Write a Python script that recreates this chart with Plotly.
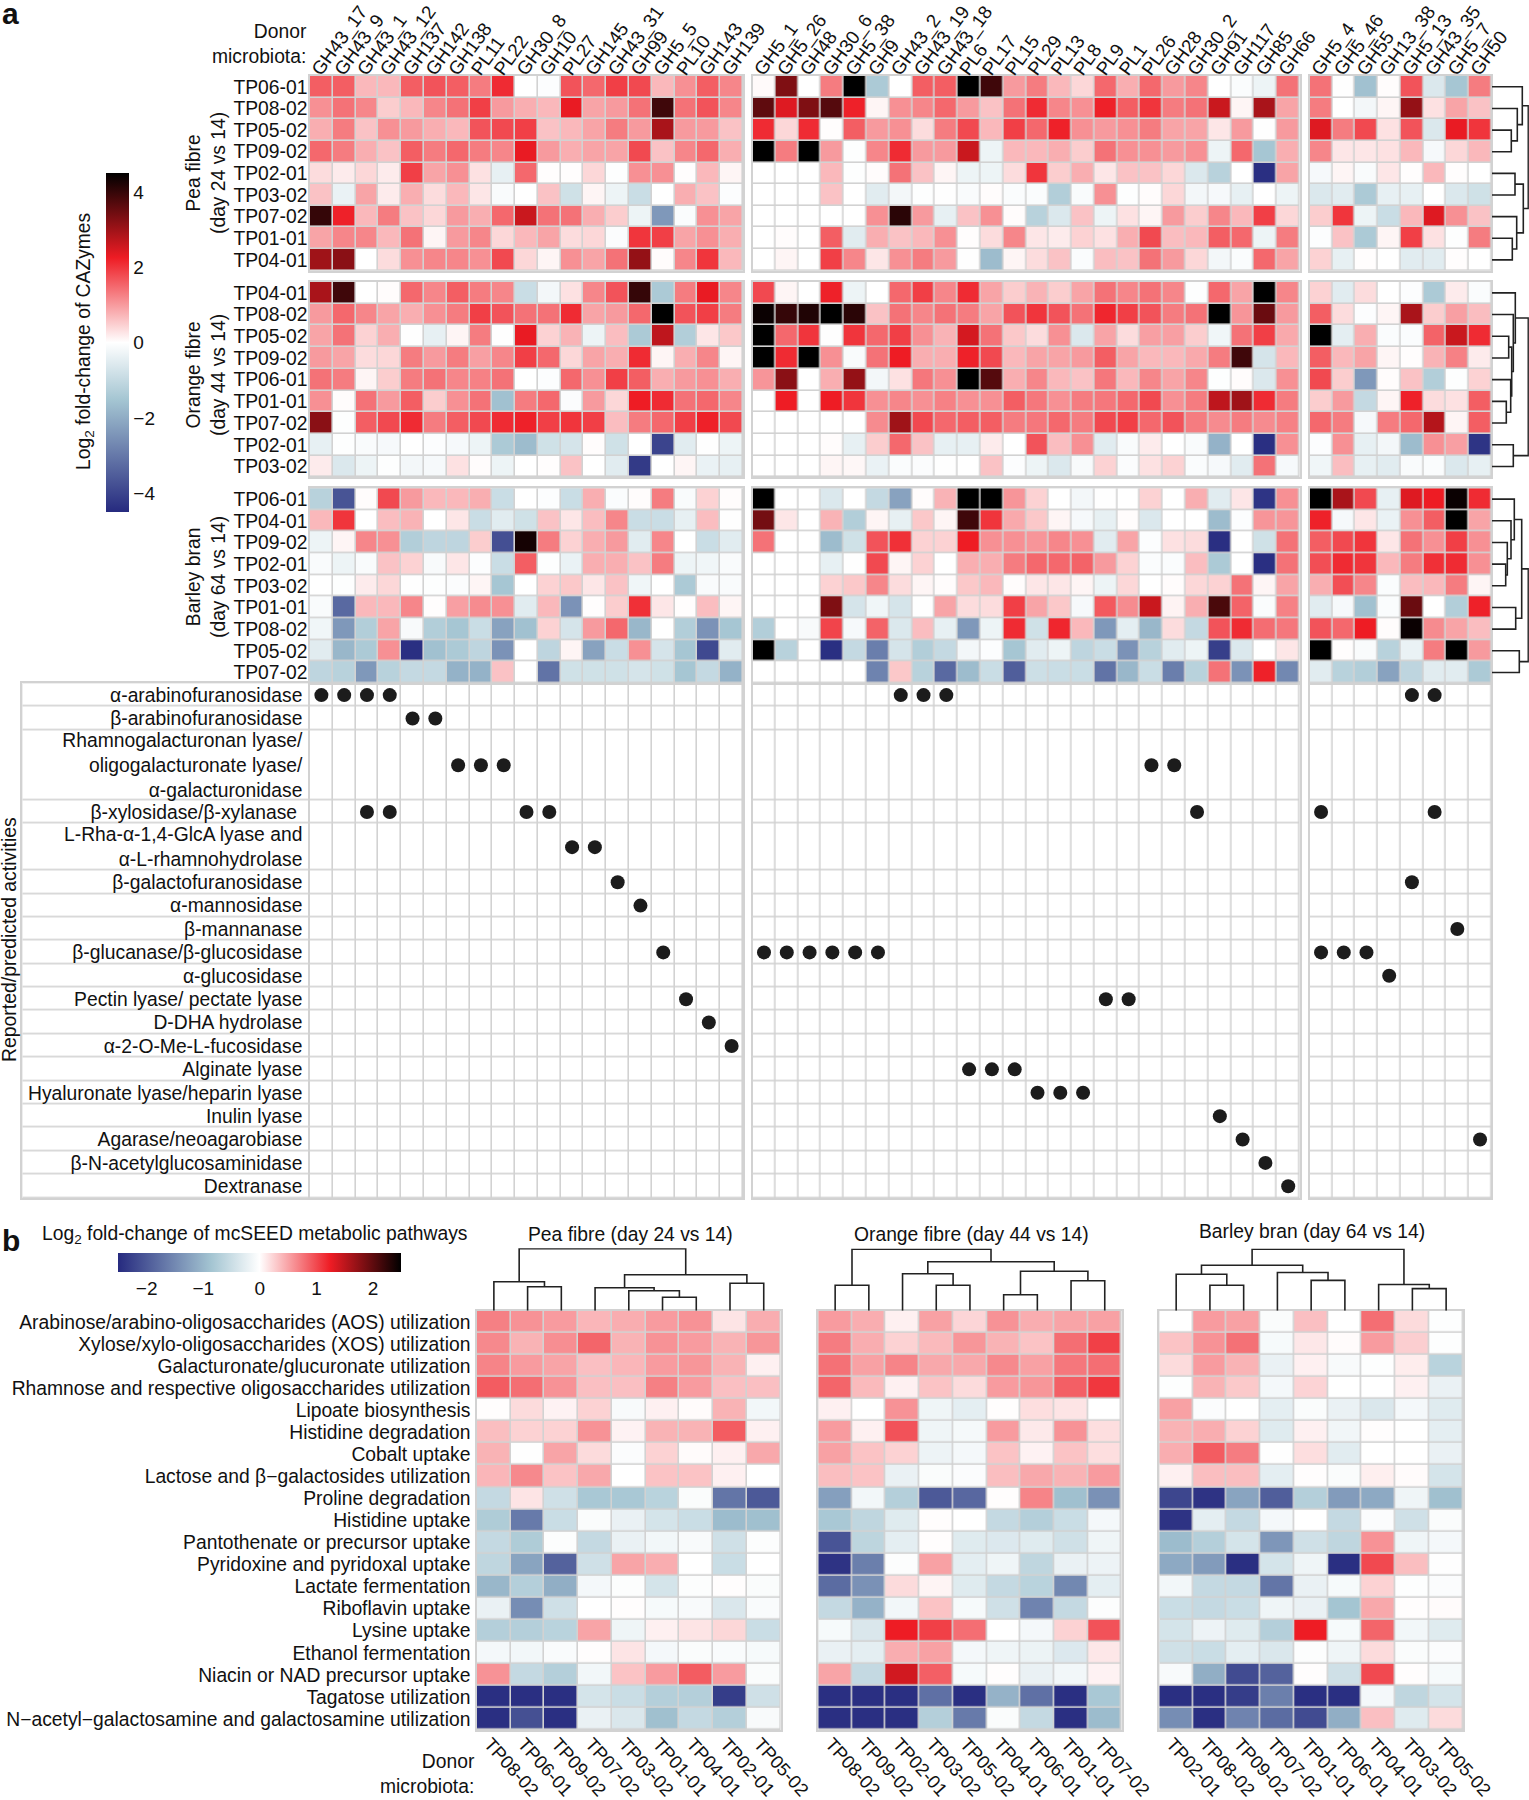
import plotly.graph_objects as go

W, H = 1529, 1800
FONT = "Liberation Sans"
GRID = "#d2d2d2"

COLS_A = ["GH43_17", "GH43_9", "GH43_1", "GH43_12", "GH137", "GH142", "GH138", "PL11", "PL22", "GH30_8",
          "GH10", "PL27", "GH145", "GH43_31", "GH99", "GH5_5", "PL10", "GH143", "GH139"]
COLS_B = ["GH5_1", "GH5_26", "GH48", "GH30_6", "GH5_38", "GH9", "GH43_2", "GH43_19", "GH43_18", "PL6", "PL17",
          "PL15", "PL29", "PL13", "PL8", "PL9", "PL1", "PL26", "GH28", "GH30_2", "GH91", "GH117", "GH85", "GH66"]
COLS_C = ["GH5_4", "GH5_46", "GH55", "GH13_38", "GH5_13", "GH43_35", "GH5_7", "GH50"]

ROWS_PEA = ["TP06-01", "TP08-02", "TP05-02", "TP09-02", "TP02-01", "TP03-02", "TP07-02", "TP01-01", "TP04-01"]
ROWS_ORANGE = ["TP04-01", "TP08-02", "TP05-02", "TP09-02", "TP06-01", "TP01-01", "TP07-02", "TP02-01", "TP03-02"]
ROWS_BARLEY = ["TP06-01", "TP04-01", "TP09-02", "TP02-01", "TP03-02", "TP01-01", "TP08-02", "TP05-02", "TP07-02"]

PEA_A = [
    [1.6, 1.6, 0.7, 0.7, 1.6, 1.7, 1.6, 1.3, 2.1, 0, -0.05, 1.7, 1.5, 1.9, 1.8, 0.7, 1.1, 1.6, 1.2],
    [1.1, 1.4, 1.2, 0.5, 0.7, 1.2, 1.4, 1.9, 1.0, 0.8, 0.7, 2.3, 0.9, 1.0, 1.4, 3.9, 1.4, 1.7, 1.2],
    [0.8, 1.3, 0.6, 1.1, 1.0, 0.8, 0.7, 1.7, 1.8, 1.9, 0.6, 0.7, 0.9, 1.3, 1.0, 2.9, 1.0, 1.0, 0.6],
    [1.5, 1.3, 0.8, 0.6, 1.6, 1.3, 1.5, 1.3, 1.2, 2.3, 1.0, 0.8, 0.9, 0.9, 1.8, 0.6, 1.2, 1.5, 0.8],
    [0.35, 0.2, 0.4, 0.2, 1.9, 0.9, 1.1, 0.3, -0.4, 1.5, 0.02, 0.02, 0.4, -0.03, 1.1, 1.1, 0.02, 0.7, 0.1],
    [0.6, -0.35, 0.9, 0.2, 0.8, 0.35, 0.7, 0.25, -0.1, 0, 0.6, -0.8, 0.1, -0.3, -0.9, 0, 0.8, 0.6, -0.05],
    [4.0, 2.2, 0.7, 1.3, 0.6, 0.4, 1.0, 0.8, 1.5, 2.6, 1.4, 1.4, 0.8, 0.5, -0.3, -2.4, -0.08, 1.1, 0.9],
    [0.9, 1.2, 1.2, 0.7, 1.4, 0.1, 1.0, 1.2, 0.4, 0.7, 0.9, 0.35, 0.4, -0.07, 2.0, 1.9, 0.9, 1.1, 0.8],
    [3.0, 3.2, 0, 0.35, 1.1, 1.2, 1.2, 1.1, 1.8, 0.4, 0.1, 1.1, 0.9, 1.4, 3.1, 0.03, 1.2, 2.0, 0.7],
]
PEA_B = [
    [0.05, 3.3, 0, 1.3, 4.5, -1.4, 0, 1.6, 1.6, 4.5, 3.9, 1.0, 1.3, 0.7, 0.4, 1.5, 0.8, 1.5, 1.0, 1.2, 0, -0.08, -0.3, 1.4],
    [3.6, 2.4, 3.3, 3.7, 2.2, 0.1, 1.1, 1.2, 1.5, 1.0, 0.6, 1.4, 2.1, 1.2, 1.1, 2.2, 1.6, 2.0, 1.3, 1.4, 2.6, 0.1, 2.9, 0.9],
    [2.1, 0.4, 2.1, 0.02, 1.6, 1.0, 1.1, 0.35, 1.3, 1.8, 0.7, 1.9, 1.5, 2.2, 1.1, 1.0, 1.1, 1.3, 0.9, 0.9, 0.25, 1.0, -0.02, 1.0],
    [4.5, 1.3, 4.5, 1.0, -0.03, 1.2, 2.1, 1.0, 1.0, 2.6, -0.3, 0.7, 0.7, 0.8, 0.5, 1.4, 1.1, 1.1, 1.0, 1.1, -0.3, 1.5, -1.5, 0.8],
    [0, 0, 0, 0.7, -0.03, 0.03, 1.4, 0.6, 0.1, -0.3, -0.3, 0.35, 2.0, 0.5, 0.8, 0.25, 0.6, 0.6, 0.4, -0.6, -1.2, 0, -4.4, 0.9],
    [0, 0, 0, 0.6, 0, -0.5, -0.2, -0.03, -0.02, -0.1, 0.03, -0.08, -0.08, -1.3, -0.1, 1.1, -0.03, 0.03, 0.4, -0.2, -0.15, -0.4, 0, -0.3],
    [0, 0, 0, 0, 0, 1.1, 4.1, 1.0, -0.4, 0.6, 1.1, 0.03, -1.2, -0.6, 0.6, -0.3, 0.3, 0.1, 1.0, 0.5, 1.2, 0.7, 1.9, 0.4],
    [0, 0.03, 0, 1.6, -0.5, 0.8, 0.6, 0.7, 1.1, 0.02, 0.35, 1.2, 0.25, 0.2, 0.45, 0.3, 0.8, 1.8, 0.65, 0.7, 1.6, 1.5, -0.3, 1.3],
    [0, 0.1, 0, 1.9, 1.2, 0.25, 1.1, 1.3, 1.0, -0.02, -1.7, 0.1, 0.35, 0.6, -0.08, 0.65, 0.6, 1.4, 1.0, 0.4, -0.2, -0.08, 1.5, 0.9],
]
PEA_C = [
    [1.4, -0.02, -1.6, 0.03, 1.7, -0.6, -1.5, 1.3],
    [1.3, 0, -0.2, 0.1, 3.1, 0.3, 0.9, 0.6],
    [2.4, 1.3, 1.8, 0.3, 1.7, -0.6, 2.3, 2.0],
    [1.2, 0.25, 0.25, 0.3, 0.7, -0.15, 0.4, 0.7],
    [-0.15, 0.1, -0.1, 0.25, 0.02, 0.7, 0.02, 0],
    [-0.6, -0.5, -1.4, -0.4, -0.4, 0, -0.6, -0.8],
    [0.5, 2.0, -0.3, -0.9, 0.7, 2.4, 1.1, 0.6],
    [-0.05, 0.6, -1.4, 0.1, 1.9, 0.3, -0.03, 1.3],
    [0.45, -0.4, 0.02, 0, -0.5, -0.5, 0.02, 0],
]
ORANGE_A = [
    [2.9, 3.9, 0, 0.03, 1.5, 1.2, 1.6, 1.3, 1.2, -0.9, -0.2, 0.3, 1.2, 1.7, 4.0, -1.4, 1.3, 2.3, 1.2],
    [1.0, 1.5, 1.2, 0.9, 0.8, 1.1, 1.3, 1.9, 1.7, 1.4, 1.4, 2.1, 0.9, 1.0, 1.5, 4.5, 1.7, 1.9, 1.3],
    [0.9, 1.4, 0.45, 0.8, -0.02, -0.4, 0.1, 1.3, -0.02, 2.3, 0.45, 0.75, -0.3, 0.65, -1.4, 2.7, -1.3, 0.25, 0.55],
    [1.0, 0.9, 0.35, 0.4, 1.3, 1.0, 1.3, 0.95, 1.2, 1.9, 1.5, 0.4, 0.9, 0.8, 2.1, 0.1, 0.8, 1.2, 0.1],
    [1.4, 1.3, 0.1, 0.5, 1.3, 1.4, 1.2, 1.25, 1.4, 0, -0.05, 1.5, 1.1, 1.9, 1.6, 0.8, 1.0, 1.1, 0.8],
    [1.1, 0.03, 1.4, 1.0, 1.6, 0.5, 1.1, 1.4, -1.6, 1.3, 1.5, -0.07, 1.0, 0.4, 2.25, 2.1, 1.4, 1.5, 1.2],
    [3.2, -0.03, 1.6, 1.8, 2.1, 1.3, 1.6, 1.8, 2.1, 2.2, 1.9, 2.0, 1.9, 0.65, 1.3, 1.5, 1.9, 2.2, 1.8],
    [-0.4, -0.03, -0.1, -0.15, 0, -0.05, -0.15, -0.3, -1.4, -1.7, -0.8, -0.7, 0.03, -0.8, 0, -4.0, -0.5, -0.02, -0.3],
    [0.2, -0.6, -0.3, -0.03, -0.2, -0.15, 0.3, 0.03, -0.3, 0, 0.02, 0.6, 0, -0.5, -4.2, 0, 0.1, -0.35, -0.4],
]
ORANGE_B = [
    [1.8, 0.1, 0, 2.2, -0.3, 0, 1.5, 1.9, 1.2, 2.1, 0.9, 0.5, 0.75, 0.5, 0.9, 1.4, 1.2, 1.4, 1.2, -0.03, 1.5, 0.9, 4.5, 1.2],
    [4.4, 4.0, 4.2, 4.5, 4.1, 0.6, 1.4, 1.2, 1.4, 1.3, 0.9, 1.7, 2.0, 1.7, 1.4, 2.15, 1.9, 1.7, 1.3, 1.4, 4.5, 1.05, 3.5, 1.0],
    [4.5, 1.5, 2.0, -0.02, 2.0, 1.5, 1.9, 1.1, 0.75, 2.5, 1.4, 0.55, 0.35, 1.1, -0.6, 0.9, 0.35, 0.95, 0.95, 0.5, -0.25, 1.4, 1.9, 0.85],
    [4.5, 2.1, 4.5, 1.1, -0.1, 1.4, 2.25, 0.8, 0.8, 2.2, 1.8, 0.7, 0.9, 0.9, 1.0, 1.6, 0.9, 0.7, 0.7, 0.85, 1.3, 3.9, -0.7, 0.7],
    [1.05, 3.2, 0, 0.8, 3.1, -0.2, 0.3, 1.35, 1.1, 4.5, 3.7, 0.8, 1.2, 0.7, 0.6, 1.35, 0.7, 1.2, 0.9, 1.2, -0.03, 0.03, -0.6, 1.1],
    [0, 2.25, 0, 2.25, 2.0, 1.1, 1.2, 1.1, 1.25, 1.1, 1.1, 1.6, 1.35, 1.1, 1.3, 1.35, 1.5, 1.8, 1.1, 1.3, 2.7, 3.0, 2.1, 1.3],
    [0, 0, 0, 0, 0, 1.15, 3.0, 1.8, 1.5, 1.6, 1.6, 1.3, 1.35, 1.5, 1.3, 1.8, 1.9, 1.5, 1.7, 1.3, 1.15, 1.3, 1.15, 1.25],
    [0, 0, 0, 0.03, -0.4, 0.5, 1.5, 0.6, -0.4, -0.4, 0.2, 0, 1.7, 0.65, 1.1, -0.5, -0.1, 0.2, 0, -0.1, -1.9, 0, -4.4, 1.1],
    [0, 0, 0, 0.1, 0.08, -0.35, -0.08, -0.07, -0.02, 0, 0.6, -0.05, -0.3, -0.6, -0.12, 0.45, -0.07, 0.3, 0.45, -0.08, -0.15, -0.5, 1.4, -0.15],
]
ORANGE_C = [
    [0.45, -0.5, 0.35, 0, -0.05, -1.4, 0.2, -0.08],
    [1.6, 0.35, -0.05, 0.1, 2.9, 0.5, 0.95, 0.65],
    [4.5, -0.45, 0.8, -0.08, -0.08, 1.55, 2.6, 2.1],
    [1.6, 0.7, 0.9, 0.1, 0.02, 0.75, 1.25, 0.2],
    [1.8, 0.5, -2.4, 0.03, 0.6, -1.3, -0.03, 0.45],
    [0.5, 1.0, -1.0, 0.1, 2.2, 0.35, 0.3, 1.6],
    [1.5, 1.3, -0.15, 1.3, 1.5, 2.8, 0.1, 1.6],
    [-0.05, 1.1, -0.4, -0.2, -1.7, 1.1, 0.95, -4.3],
    [-0.25, 0.65, -0.4, -0.5, -0.1, -0.08, -0.6, -0.4],
]
BARLEY_A = [
    [-1.2, -3.7, 0.03, 1.8, 1.0, 0.7, 0.7, 0.8, -0.9, 0, -0.05, -0.9, 0.8, -0.08, 0.03, 1.3, -0.1, 0.45, 0.03],
    [0.7, 2.0, 0, 0.65, 0.75, 0, 0.25, -0.9, -0.5, -0.8, 0.6, 0.25, 0.65, 1.2, -0.9, -0.9, -0.4, 0.65, -0.02],
    [-0.3, 0.1, 1.2, 1.1, -1.3, -1.1, -1.1, 0.5, -3.8, 4.3, 1.3, 0.45, 0.8, 1.0, -0.5, 1.2, 0, -0.9, -0.5],
    [-0.1, -0.3, -0.1, 0.6, 0.45, -0.12, 0.25, -0.05, -0.9, 1.6, -0.03, -0.35, 0.8, 0.8, 0.6, 1.3, -0.3, -0.25, -0.1],
    [0, -0.03, 0.2, 0.4, -0.02, -0.03, -0.07, 0.1, -1.5, 0, 0.45, 0.55, 0.25, 0.6, -0.25, 0, -1.4, -0.1, -0.1],
    [-0.1, -3.3, 0.7, 0.7, 1.2, 0.02, 0.95, 1.15, 1.1, -0.5, 0.7, -2.5, 0.02, 0.5, 2.05, 0.25, 0.02, 0.65, 0.1],
    [-0.25, -2.4, -1.3, 0.9, -0.12, -1.3, -1.5, -0.9, -2.2, -1.6, 0.45, -0.7, 1.0, 1.5, -1.8, 0, -1.3, -2.5, -1.5],
    [-0.5, -1.8, -1.4, 1.1, -4.4, -1.6, -1.4, -1.1, -2.5, 0, -1.1, 0.1, -2.2, -0.9, 1.1, -0.7, -1.5, -3.9, -0.5],
    [-1.1, -1.2, -2.4, -1.2, -1.0, -1.0, -1.9, -1.9, 0.6, 0, -3.1, -0.8, -0.8, -0.8, -0.7, -0.8, -1.5, -1.0, -1.9],
]
BARLEY_B = [
    [4.5, 0, 0, -0.6, 0, -1.0, -2.2, 0.03, 0.75, 4.5, 4.5, 1.05, 0.45, 0, -0.2, -0.02, 0, 0.45, 0, 0.8, -0.5, 0.25, -4.3, 1.1],
    [3.4, 0.25, 0, 0.75, -1.3, 0.1, -0.4, 0.55, 0.1, 3.9, 2.0, 0.85, 0.55, 0.1, -0.15, -0.4, 0.03, -0.6, 0, 0, -1.7, -0.05, 1.05, 1.05],
    [1.4, 0, 0, -1.7, -0.8, 1.7, 2.05, 0.45, 0.45, 2.25, 1.1, 1.1, 1.05, 1.2, 1.1, -0.5, 0.9, -0.05, 0.3, 0.35, -4.4, 0, -0.8, 1.4],
    [0, 0, 0, -0.4, -0.02, 1.8, 0.1, 0.45, 0, 0.8, 0.8, 1.3, 1.5, 1.5, 1.55, 1.0, 0.45, -0.08, -0.08, 0.65, -1.4, 0, -4.4, 1.4],
    [0, 0, 0, 0.45, 0.55, 1.2, 0.35, 0.1, 0.03, 0.55, 0.7, 0.03, 0.25, 0.25, 0.1, -0.3, 0.4, 0, 0.03, 0.4, 0.45, 1.4, 0.1, 0.9],
    [0, 0, 0, 3.3, -0.7, -0.25, -0.7, -0.02, 0.9, 0.35, 0.35, 1.9, 0.9, 0.55, -0.15, 1.65, 1.15, 2.6, 0.12, 0.8, 3.8, 1.55, -0.08, 1.25],
    [-1.3, 0, -0.12, 1.85, -0.15, 1.55, -0.6, 0.65, -0.4, -2.4, -0.3, 2.1, -0.8, 2.15, 0.7, -2.4, -0.45, -1.8, 0.35, -1.0, 1.7, 2.1, 1.45, 1.35],
    [4.5, -1.2, 0, -4.4, -1.0, -2.9, -0.7, -1.3, -1.0, -0.2, -0.05, -1.5, -0.5, -0.3, -1.1, -0.9, -2.5, -1.2, -0.5, -0.3, -4.1, -0.6, 0, 0.25],
    [0, 0, 0, 0, 0, -2.8, 0.55, -1.2, -3.3, -1.7, -0.9, -3.5, -0.85, -0.9, -0.9, -3.1, -1.8, -0.9, -2.9, -1.2, 1.4, -2.5, 2.2, -2.7],
]
BARLEY_C = [
    [4.5, 2.9, 1.8, -0.4, 2.4, 2.25, 4.4, 2.1],
    [2.2, -0.15, 0.25, -0.35, 1.1, 1.6, 4.5, 0.9],
    [1.6, 1.8, 2.0, 0.25, 1.4, 1.1, 1.9, 1.1],
    [1.75, 2.1, 2.0, 0.7, 1.3, 2.05, 2.1, 1.1],
    [0.8, 1.75, 1.2, -0.08, 0.65, 0.7, 1.3, 0.1],
    [-0.5, -0.15, -1.6, -0.08, 3.5, 0, -1.3, 2.2],
    [1.7, 1.5, 2.25, 0.03, 4.4, 1.15, 0.9, 0.65],
    [4.5, 0.02, -0.1, -1.2, -0.35, 1.3, 4.5, 1.0],
    [-0.5, -1.2, -1.3, -2.2, -1.1, -0.5, -0.5, -1.4],
]

# reported activities: row labels, row span in grid units, and dotted columns per block
ACTIVITIES = ["α-arabinofuranosidase", "β-arabinofuranosidase",
              "Rhamnogalacturonan lyase/<br>oligogalacturonate lyase/<br>α-galacturonidase",
              "β-xylosidase/β-xylanase\u00a0", "L-Rha-α-1,4-GlcA lyase and<br>α-L-rhamnohydrolase",
              "β-galactofuranosidase", "α-mannosidase", "β-mannanase", "β-glucanase/β-glucosidase", "α-glucosidase",
              "Pectin lyase/ pectate lyase", "D-DHA hydrolase", "α-2-O-Me-L-fucosidase", "Alginate lyase",
              "Hyaluronate lyase/heparin lyase", "Inulin lyase", "Agarase/neoagarobiase",
              "β-N-acetylglucosaminidase", "Dextranase"]
ACTIVITY_SPANS = [1, 1, 3, 1, 2, 1, 1, 1, 1, 1, 1, 1, 1, 1, 1, 1, 1, 1, 1]
DOTS_A = [[0, 1, 2, 3], [4, 5], [6, 7, 8], [2, 3, 9, 10], [11, 12], [13], [14], [], [15], [], [16], [17], [18],
          [], [], [], [], [], []]
DOTS_B = [[6, 7, 8], [], [17, 18], [19], [], [], [], [], [0, 1, 2, 3, 4, 5], [], [15, 16], [], [], [9, 10, 11],
          [12, 13, 14], [20], [21], [22], [23]]
DOTS_C = [[4, 5], [], [], [0, 5], [], [4], [], [6], [0, 1, 2], [3], [], [], [], [], [], [], [7], [], []]

# panel b
PATHWAYS = ["Arabinose/arabino-oligosaccharides (AOS) utilization", "Xylose/xylo-oligosaccharides (XOS) utilization",
            "Galacturonate/glucuronate utilization", "Rhamnose and respective oligosaccharides utilization",
            "Lipoate biosynthesis", "Histidine degradation", "Cobalt uptake", "Lactose and β−galactosides utilization",
            "Proline degradation", "Histidine uptake", "Pantothenate or precursor uptake",
            "Pyridoxine and pyridoxal uptake", "Lactate fermentation", "Riboflavin uptake", "Lysine uptake",
            "Ethanol fermentation", "Niacin or NAD precursor uptake", "Tagatose utilization",
            "N−acetyl−galactosamine and galactosamine utilization"]
DONORS_PEA = ["TP08-02", "TP06-01", "TP09-02", "TP07-02", "TP03-02", "TP01-01", "TP04-01", "TP02-01", "TP05-02"]
DONORS_ORANGE = ["TP08-02", "TP09-02", "TP02-01", "TP03-02", "TP05-02", "TP04-01", "TP06-01", "TP01-01", "TP07-02"]
DONORS_BARLEY = ["TP02-01", "TP08-02", "TP09-02", "TP07-02", "TP01-01", "TP06-01", "TP04-01", "TP03-02", "TP05-02"]

PATH_PEA = [
    [0.7, 0.6, 0.55, 0.4, 0.45, 0.55, 0.6, 0.15, 0.45],
    [0.65, 0.42, 0.62, 0.85, 0.42, 0.6, 0.55, 0.42, 0.58],
    [0.68, 0.55, 0.5, 0.35, 0.4, 0.55, 0.58, 0.42, 0.08],
    [0.9, 0.8, 0.6, 0.35, 0.35, 0.7, 0.55, 0.35, 0.35],
    [0.01, 0.2, 0.07, 0.25, -0.07, 0.08, 0.02, 0.42, -0.12],
    [0.36, 0.25, 0.25, 0.6, 0.07, 0.42, 0.42, 0.9, 0.08],
    [0.42, -0.01, 0.5, 0.2, -0.04, 0.25, 0.02, 0.08, 0.48],
    [0.4, 0.65, 0.33, 0.48, 0, 0.33, 0.33, 0.08, 0],
    [-0.55, 0.15, -0.45, -0.8, -0.8, -0.65, -0.05, -1.7, -2.0],
    [-0.75, -1.65, -0.5, -0.05, -0.2, -0.4, -0.5, -0.95, -0.9],
    [-0.55, -0.75, -0.03, -0.55, -0.2, -0.12, -0.07, -0.45, -0.03],
    [-0.6, -1.2, -1.9, -0.45, 0.5, 0.45, 0, -0.5, 0],
    [-1.0, -0.7, -1.1, -0.1, -0.03, -0.4, -0.03, 0.01, -0.05],
    [-0.2, -1.45, -0.45, 0, 0.01, -0.08, -0.07, -0.35, -0.06],
    [-0.7, -0.7, -0.65, 0.5, -0.15, 0.08, 0.15, 0.22, -0.5],
    [-0.1, -0.12, -0.06, 0.01, 0.15, -0.1, -0.05, -0.06, -0.08],
    [0.6, -0.55, -0.7, -0.12, 0.33, 0.55, 0.9, 0.55, -0.05],
    [-2.45, -2.45, -2.45, -0.4, -0.5, -0.7, -0.7, -2.3, -0.45],
    [-2.45, -2.1, -2.45, -0.2, -0.35, -0.9, -0.55, -0.7, -0.07],
]
PATH_ORANGE = [
    [0.55, 0.45, 0.08, 0.52, 0.23, 0.6, 0.45, 0.5, 0.52],
    [0.72, 0.45, 0.25, 0.38, 0.58, 0.42, 0.33, 0.8, 1.05],
    [0.78, 0.52, 0.68, 0.48, 0.48, 0.65, 0.52, 0.75, 0.8],
    [0.85, 0.38, 0.08, 0.33, 0.2, 0.55, 0.58, 0.88, 1.1],
    [0.08, 0, 0.6, -0.15, -0.25, 0.01, 0.18, 0.15, 0],
    [0.55, 0.08, 0.95, -0.15, -0.09, 0.55, 0.12, 0.6, 0.18],
    [0.52, 0.33, 0.25, -0.17, -0.1, 0.33, 0.07, 0.33, 0.18],
    [0.36, 0.33, -0.2, -0.05, -0.04, 0.36, 0.48, 0.42, 0.55],
    [-1.25, -0.12, -0.7, -2.0, -1.85, 0.01, 0.68, -0.9, -1.4],
    [-0.8, -0.6, -0.3, 0.01, 0, -0.55, -0.7, -0.5, -0.1],
    [-2.05, -0.62, -0.25, 0.01, -0.3, -0.33, -0.3, -0.45, -0.15],
    [-2.4, -1.6, -0.03, 0.52, -0.25, -0.15, -0.6, -0.2, -0.17],
    [-1.8, -1.4, 0.2, 0.06, -0.3, -0.55, -0.65, -1.5, -0.25],
    [-0.55, -1.05, -0.12, 0.33, -0.08, -0.45, -1.55, -0.55, -0.03],
    [-0.08, -0.35, 1.25, 1.05, 0.8, 0, -0.1, 0.25, 0.95],
    [-0.2, -0.25, 0.45, 0.52, -0.1, -0.15, -0.18, -0.33, 0.13],
    [0.5, -0.55, 1.4, 0.88, -0.08, 0.01, -0.2, -0.12, 0.07],
    [-2.45, -2.45, -2.45, -1.75, -2.45, -1.05, -1.75, -2.45, -0.8],
    [-2.45, -2.45, -2.45, -0.7, -1.65, -0.05, -0.55, -2.45, -0.95],
]
PATH_BARLEY = [
    [0, 0.55, 0.52, -0.05, 0.35, 0, 0.8, 0.2, -0.02],
    [0.33, 0.6, 0.78, -0.08, 0.13, 0.02, 0.55, 0.27, -0.02],
    [0.2, 0.55, 0.42, -0.2, 0.08, -0.07, -0.02, 0.1, -0.65],
    [-0.02, 0.42, 0.3, -0.1, 0.24, 0, 0, 0.08, -0.2],
    [0.52, -0.04, 0, -0.25, -0.05, -0.2, -0.35, -0.1, -0.3],
    [0.42, 0.45, 0.25, -0.3, 0.08, -0.13, 0.01, 0, -0.25],
    [0.45, 0.9, 0.72, -0.01, 0.18, -0.28, 0, 0, -0.2],
    [0.08, 0.36, 0.36, -0.25, 0.01, -0.05, 0.09, 0.02, -0.4],
    [-2.2, -2.4, -1.2, -1.95, -0.7, -1.3, -1.15, -0.15, -0.9],
    [-2.4, -0.25, -0.55, -0.1, 0, -0.55, -0.04, -0.45, -0.05],
    [-0.95, -0.7, -0.4, -1.35, -0.45, -0.6, 0.6, -0.15, -0.1],
    [-1.15, -1.3, -2.45, -0.4, -0.15, -2.45, 1.0, 0.36, -0.01],
    [-0.12, -0.55, -0.55, -1.7, -0.2, -0.08, 0.25, -0.02, -0.04],
    [-0.5, -0.55, -0.5, -0.15, -0.2, -0.85, 0.48, 0.01, 0.02],
    [-0.4, -0.17, -0.3, -0.7, 1.25, -0.08, 0.85, -0.12, -0.3],
    [-0.45, -0.5, -0.25, -0.35, -0.03, -0.15, 0.2, -0.05, -0.04],
    [-0.07, -1.1, -2.15, -1.9, 0.01, -0.45, 1.0, 0.01, -0.08],
    [-2.45, -2.45, -2.3, -1.6, -2.45, -2.45, -0.1, -0.6, -0.4],
    [-1.45, -2.45, -1.55, -1.8, -2.15, -1.1, 0.35, -0.3, 0.2],
]

# dendrograms as (height, left, right); an int is a leaf position
TREE_PEA_ROWS = (36.3, (30.3, 0, (25.3, 1, (19.3, 2, 3))),
                 (31.3, (23, 4, 5), (24.7, 6, (20.3, 7, 8))))
TREE_ORANGE_ROWS = (36.3, (23.3, 0, (21.3, 1, (19.7, (16.7, 2, 3), (18.7, 4, (14.3, 5, 6))))), (21.3, 7, 8))
TREE_BARLEY_ROWS = (36.3, (29.7, (22.3, 0, (19, 1, (15.3, 2, (13.7, 3, 4)))), (23.7, 5, 6)), (27.3, 7, 8))
TREE_PEA_COLS = (62, (29, 0, (24, 1, 2)), (36, (23, 3, (20, 4, (13.5, 5, 6))), (27.5, 7, 8)))
TREE_ORANGE_COLS = (61.6, (25.5, 0, 1), (49, (37, 2, (25.5, 3, 4)), (39.5, (16, 5, 6), (30, 7, 8))))
TREE_BARLEY_COLS = (61.6, (45.5, (36.5, 0, (25.5, 1, 2)), (38.3, 3, (30.4, 4, 5))), (26.3, 6, (22.2, 7, 8)))

CAZY_TICKS = [-4, -2, 0, 2, 4]
PATH_TICKS = [-2, -1, 0, 1, 2]
SCALE = [[0, "#262a7f"], [0.33, "#a4c5d2"], [0.5, "#ffffff"], [0.75, "#ee1c24"], [1, "#000000"]]

fig = go.Figure()
layout = {}
axis_count = 0


def px(x):
    return x / W


def py(y):
    return 1 - y / H


def new_axes(x0, x1, y0, y1, xopts, yopts):
    # a fresh axis pair placed in page pixels
    global axis_count
    axis_count += 1
    n = axis_count
    suffix = "" if n == 1 else str(n)
    base = dict(showgrid=False, zeroline=False, ticks="", showticklabels=False,
                showline=True, linecolor=GRID, linewidth=1.5, mirror=True)
    layout["xaxis" + suffix] = {**base, "domain": [px(x0), px(x1)], "anchor": "y" + suffix, **xopts}
    layout["yaxis" + suffix] = {**base, "domain": [py(y1), py(y0)], "anchor": "x" + suffix, **yopts}
    return "x" + suffix, "y" + suffix


def grid_backing(x0, x1, y0, y1):
    # the grey seen through the cell gaps
    fig.add_shape(type="rect", xref="paper", yref="paper", x0=px(x0), x1=px(x1), y0=py(y1), y1=py(y0),
                  fillcolor=GRID, line_width=0, layer="below")


def heat(z, cols, rows, x0, x1, y0, y1, coloraxis, top=False, bottom=False, left=False, font=19.3, xfont=18.8,
         angle=-54, xstandoff=-14, xshift=-8, ystandoff=-3):
    xopts = dict(type="category")
    yopts = dict(type="category", autorange="reversed")
    if top or bottom:
        xopts.update(showticklabels=True, tickmode="linear", tick0=0, dtick=1, tickangle=angle,
                     side="top" if top else "bottom", ticklabelstandoff=xstandoff, ticklabelshift=xshift,
                     tickfont=dict(size=xfont, color="#111"))
    if left:
        yopts.update(showticklabels=True, tickmode="linear", tick0=0, dtick=1, ticklabelstandoff=ystandoff,
                     tickfont=dict(size=font, color="#111"))
    grid_backing(x0, x1, y0, y1)
    xa, ya = new_axes(x0, x1, y0, y1, xopts, yopts)
    fig.add_trace(go.Heatmap(z=z, x=cols, y=rows, xaxis=xa, yaxis=ya, coloraxis=coloraxis, xgap=1.6, ygap=1.6,
                             hoverongaps=False))


def walk_tree(node, segments):
    # returns (leaf position, height) and collects the elbow of each merge
    if isinstance(node, int):
        return node, 0
    h, left, right = node
    p0, h0 = walk_tree(left, segments)
    p1, h1 = walk_tree(right, segments)
    segments.append(([p0, p0, p1, p1], [h0, h, h, h1]))
    return (p0 + p1) / 2, h


def tree_lines(tree):
    segments = []
    walk_tree(tree, segments)
    pos, hgt = [], []
    for p, h in segments:
        pos += p + [None]
        hgt += h + [None]
    return pos, hgt


def dendro_top(tree, x0, x1, y_base, n=9):
    hidden = dict(visible=False)
    pos, hgt = tree_lines(tree)
    xa, ya = new_axes(x0, x1, y_base - tree[0] - 0.6, y_base, {**hidden, "range": [-0.5, n - 0.5]},
                      {**hidden, "range": [0, tree[0] + 0.6]})
    fig.add_trace(go.Scatter(x=pos, y=hgt, mode="lines", xaxis=xa, yaxis=ya, showlegend=False,
                             line=dict(color="#222", width=1.6)))


def dendro_right(tree, x_base, y0, y1, n=9):
    hidden = dict(visible=False)
    pos, hgt = tree_lines(tree)
    xa, ya = new_axes(x_base, x_base + tree[0] + 0.6, y0, y1, {**hidden, "range": [0, tree[0] + 0.6]},
                      {**hidden, "range": [n - 0.5, -0.5]})
    fig.add_trace(go.Scatter(x=hgt, y=pos, mode="lines", xaxis=xa, yaxis=ya, showlegend=False,
                             line=dict(color="#222", width=1.6)))


BLOCKS_X = [(310, 743), (752.6, 1299.6), (1309.7, 1491.4)]
BLOCK_COLS = [COLS_A, COLS_B, COLS_C]
GRID_TOP, GRID_BOTTOM, GRID_LEFT = 683.4, 1198, 22.3

# activity grid: the label cell goes first so the tick labels sit on top of it
edges = [0]
for span in ACTIVITY_SPANS:
    edges.append(edges[-1] + span)
centres = [(a + b) / 2 for a, b in zip(edges, edges[1:])]
white = [[0, "#ffffff"], [1, "#ffffff"]]

grid_backing(GRID_LEFT, 310, GRID_TOP, GRID_BOTTOM)
xa, ya = new_axes(GRID_LEFT, 310, GRID_TOP, GRID_BOTTOM, dict(range=[-0.5, 0.5]), dict(range=[edges[-1], 0]))
fig.add_trace(go.Heatmap(z=[[0]] * len(ACTIVITIES), x=[0], y=edges, xaxis=xa, yaxis=ya, colorscale=white,
                         showscale=False, ygap=1.6))

for (x0, x1), cols, dots in zip(BLOCKS_X, BLOCK_COLS, [DOTS_A, DOTS_B, DOTS_C]):
    yopts = dict(range=[edges[-1], 0])
    if cols is COLS_A:
        yopts.update(showticklabels=True, tickvals=centres, ticktext=ACTIVITIES, ticks="outside", ticklen=2,
                     tickcolor="rgba(0,0,0,0)", tickfont=dict(size=19.3, color="#111"))
    grid_backing(x0, x1, GRID_TOP, GRID_BOTTOM)
    xa, ya = new_axes(x0, x1, GRID_TOP, GRID_BOTTOM, dict(range=[-0.5, len(cols) - 0.5]), yopts)
    fig.add_trace(go.Heatmap(z=[[0] * len(cols)] * len(ACTIVITIES), x=list(range(len(cols))), y=edges, xaxis=xa,
                             yaxis=ya, colorscale=white, showscale=False, xgap=1.6, ygap=1.6))
    dot_x = [c for row in dots for c in row]
    dot_y = [centres[i] for i, row in enumerate(dots) for c in row]
    fig.add_trace(go.Scatter(x=dot_x, y=dot_y, mode="markers", xaxis=xa, yaxis=ya, showlegend=False,
                             marker=dict(size=14, color="#1c1c1c")))

# panel a heatmaps
PANELS_Y = [(76, 270.7), (282, 477.3), (488.3, 683.3)]
PANEL_DATA = [(ROWS_PEA, [PEA_A, PEA_B, PEA_C], TREE_PEA_ROWS),
              (ROWS_ORANGE, [ORANGE_A, ORANGE_B, ORANGE_C], TREE_ORANGE_ROWS),
              (ROWS_BARLEY, [BARLEY_A, BARLEY_B, BARLEY_C], TREE_BARLEY_ROWS)]
for p, ((y0, y1), (rows, blocks, tree)) in enumerate(zip(PANELS_Y, PANEL_DATA)):
    for b, ((x0, x1), z, cols) in enumerate(zip(BLOCKS_X, blocks, BLOCK_COLS)):
        heat(z, cols, rows, x0, x1, y0, y1, "coloraxis", top=p == 0, left=b == 0)
    dendro_right(tree, 1492, y0, y1)

# panel b heatmaps
PATH_X = [(477, 780.6), (818.3, 1121.6), (1159.3, 1463)]
PATH_Y = (1310.8, 1730)
PATH_DATA = [(PATH_PEA, DONORS_PEA, TREE_PEA_COLS), (PATH_ORANGE, DONORS_ORANGE, TREE_ORANGE_COLS),
             (PATH_BARLEY, DONORS_BARLEY, TREE_BARLEY_COLS)]
for i, ((x0, x1), (z, donors, tree)) in enumerate(zip(PATH_X, PATH_DATA)):
    heat(z, donors, PATHWAYS, x0, x1, PATH_Y[0], PATH_Y[1], "coloraxis2", bottom=True, left=i == 0, xfont=18.5,
         angle=48, xstandoff=-6, xshift=-4, ystandoff=1)
    dendro_top(tree, x0, x1, PATH_Y[0])

layout["coloraxis"] = dict(
    colorscale=SCALE, cmin=-4.5, cmax=4.5,
    colorbar=dict(x=px(105.7), xanchor="left", y=py(173.3), yanchor="top", thickness=23, lenmode="pixels", len=339,
                  xpad=0, ypad=0, outlinewidth=0, tickvals=CAZY_TICKS, ticks="", tickfont=dict(size=19, color="#111")),
)
layout["coloraxis2"] = dict(
    colorscale=SCALE, cmin=-2.5, cmax=2.5,
    colorbar=dict(orientation="h", x=px(118.4), xanchor="left", y=py(1252.9), yanchor="top", thickness=19,
                  lenmode="pixels", len=283, xpad=0, ypad=0, outlinewidth=0, tickvals=PATH_TICKS, ticks="",
                  tickfont=dict(size=19, color="#111")),
)


def note(x, y, text, size=19.3, angle=0, anchor="center", align="center", bold=False):
    fig.add_annotation(x=px(x), y=py(y), xref="paper", yref="paper", text=f"<b>{text}</b>" if bold else text,
                       showarrow=False, font=dict(size=size, color="#111"), textangle=angle, xanchor=anchor,
                       yanchor="middle", align=align)


note(0, 14, "a", size=30, anchor="left", bold=True)
note(0, 1240, "b", size=30, anchor="left", bold=True)
note(309, 44, "Donor<br>microbiota:", anchor="right", align="right")
note(477, 1774, "Donor<br>microbiota:", anchor="right", align="right")
note(206, 173, "Pea fibre<br>(day 24 vs 14)", angle=-90)
note(206, 375, "Orange fibre<br>(day 44 vs 14)", angle=-90)
note(206, 577, "Barley bran<br>(day 64 vs 14)", angle=-90)
note(85, 342, "Log<sub>2</sub> fold-change of CAZymes", angle=-90)
note(9, 940, "Reported/predicted activities", size=19.4, angle=-90)
note(255, 1235, "Log<sub>2</sub> fold-change of mcSEED metabolic pathways")
note(630, 1234, "Pea fibre (day 24 vs 14)")
note(971, 1234, "Orange fibre (day 44 vs 14)")
note(1312, 1231, "Barley bran (day 64 vs 14)")

fig.update_layout(
    width=W, height=H, margin=dict(l=0, r=0, t=0, b=0, autoexpand=False), showlegend=False,
    paper_bgcolor="white", plot_bgcolor="white", font=dict(family=FONT, color="#111"), **layout,
)

fig.write_html("out.html", config={"displayModeBar": False}, post_script="document.body.style.margin = '0';")
